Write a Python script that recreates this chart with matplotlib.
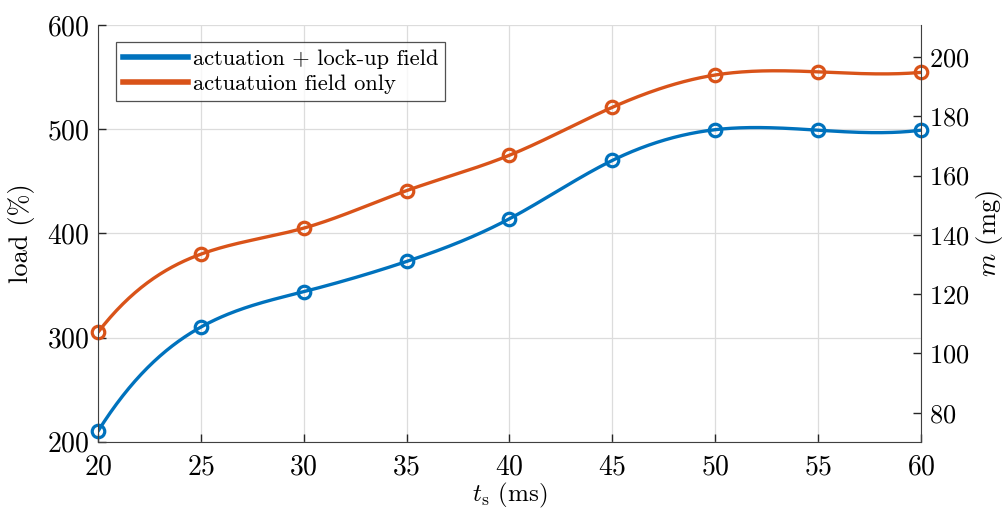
import numpy as np
import matplotlib
matplotlib.use("Agg")
import matplotlib.pyplot as plt

# data
ts = [20, 25, 30, 35, 40, 45, 50, 55, 60]
load_both = [210, 310, 344, 373, 414, 470, 499.5, 499, 499]
load_act = [305, 380, 405, 441, 475, 521, 552, 555, 554.5]
labels = ["actuation + lock-up field", "actuatuion field only"]
mass_per_load = 0.3513   # mg per % load (right axis scale)

blue = "#0072BD"
orange = "#D95319"


def spline(x, y, xs):
    # not-a-knot cubic spline, like matlab's spline()
    x = np.asarray(x, float); y = np.asarray(y, float)
    n = len(x); h = np.diff(x)
    A = np.zeros((n, n)); b = np.zeros(n)
    A[0, 0], A[0, 1], A[0, 2] = h[1], -(h[0] + h[1]), h[0]
    A[-1, -3], A[-1, -2], A[-1, -1] = h[-1], -(h[-2] + h[-1]), h[-2]
    for i in range(1, n - 1):
        A[i, i - 1] = h[i - 1]
        A[i, i] = 2 * (h[i - 1] + h[i])
        A[i, i + 1] = h[i]
        b[i] = 6 * ((y[i + 1] - y[i]) / h[i] - (y[i] - y[i - 1]) / h[i - 1])
    M = np.linalg.solve(A, b)
    k = np.clip(np.searchsorted(x, xs) - 1, 0, n - 2)
    hk = h[k]; a = x[k + 1] - xs; c = xs - x[k]
    return (M[k] * a**3 / (6 * hk) + M[k + 1] * c**3 / (6 * hk)
            + (y[k] / hk - M[k] * hk / 6) * a + (y[k + 1] / hk - M[k + 1] * hk / 6) * c)


plt.rcParams["font.family"] = "serif"
plt.rcParams["font.serif"] = ["cmr10"]
plt.rcParams["mathtext.fontset"] = "cm"
plt.rcParams["axes.formatter.use_mathtext"] = True

fig = plt.figure(figsize=(10.08, 5.14), dpi=100)
ax = fig.add_axes([0.0972, 0.1407, 0.8165, 0.8107])

xs = np.linspace(ts[0], ts[-1], 400)
l1, = ax.plot(xs, spline(ts, load_both, xs), color=blue, lw=2.4, label=labels[0])
l2, = ax.plot(xs, spline(ts, load_act, xs), color=orange, lw=2.4, label=labels[1])
ax.plot(ts, load_both, "o", ms=9, mfc="none", mec=blue, mew=2.3, clip_on=False)
ax.plot(ts, load_act, "o", ms=9, mfc="none", mec=orange, mew=2.3, clip_on=False)

ax.set_xlim(20, 60)
ax.set_ylim(200, 600)
ax.set_xticks(range(20, 61, 5))
ax.set_yticks(range(200, 601, 100))
ax.grid(True, color="#dcdcdc", lw=0.9)
ax.set_axisbelow(True)
ax.tick_params(direction="in", length=6, width=1, colors="#262626",
               labelcolor="black", labelsize=20, top=False, right=False)
ax.tick_params(axis="x", pad=9)
ax.tick_params(axis="y", pad=6)
for s in ["top", "right"]:
    ax.spines[s].set_visible(False)
for s in ["left", "bottom"]:
    ax.spines[s].set_color("#404040")
ax.set_xlabel(r"$t_\mathrm{s}$ (ms)", fontsize=18, labelpad=0)
ax.set_ylabel("load (%)", fontsize=19, labelpad=9)

ax2 = ax.twinx()
ax2.set_ylim(200 * mass_per_load, 600 * mass_per_load)
ax2.set_yticks(range(80, 201, 20))
ax2.tick_params(direction="in", length=6, width=1, colors="#262626",
                labelcolor="black", labelsize=19, pad=6)
for s in ["top", "left", "bottom"]:
    ax2.spines[s].set_visible(False)
ax2.spines["right"].set_color("#404040")
ax2.set_ylabel(r"$m$ (mg)", fontsize=19, labelpad=3)

leg = ax.legend(handles=[l1, l2], loc="upper left", bbox_to_anchor=(0.022, 0.958),
                fontsize=16.2, frameon=True, fancybox=False, edgecolor="#262626",
                handlelength=2.9, handletextpad=0.2, borderpad=0.3,
                labelspacing=0.25, borderaxespad=0)
leg.get_frame().set_linewidth(0.9)
for h in leg.legend_handles:
    h.set_linewidth(4)

fig.savefig("out.png", dpi=100)
